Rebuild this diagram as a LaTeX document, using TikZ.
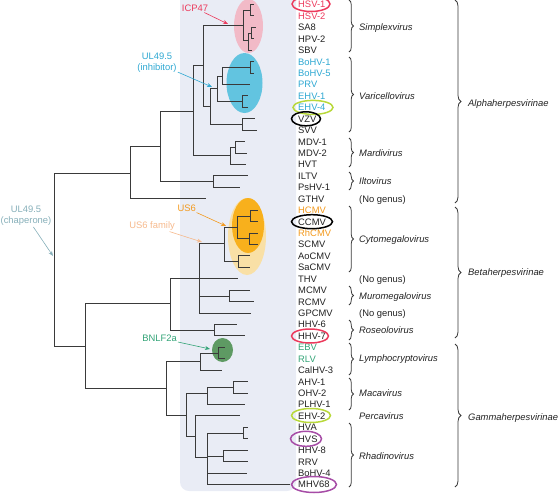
\documentclass[tikz,border=0pt]{standalone}
\usepackage{fontspec}
\setmainfont{Liberation Sans}
\usetikzlibrary{decorations.pathreplacing,arrows.meta,shapes.geometric}
\definecolor{treec}{HTML}{3A3A3A}
\definecolor{panel}{HTML}{E9ECF5}
\definecolor{hsvc}{HTML}{EC3A5C}
\definecolor{pinkfill}{HTML}{F2BAC7}
\definecolor{bluec}{HTML}{2EA8D2}
\definecolor{bluefill}{HTML}{62C4E0}
\definecolor{orangec}{HTML}{F39A1E}
\definecolor{orangefill}{HTML}{F8B01C}
\definecolor{lightor}{HTML}{F9E0A6}
\definecolor{famc}{HTML}{F6B98C}
\definecolor{greenc}{HTML}{33A477}
\definecolor{greenfill}{HTML}{5E9A63}
\definecolor{chapc}{HTML}{86AFB9}
\definecolor{limec}{HTML}{B8D83A}
\definecolor{purpc}{HTML}{A64CA6}
\definecolor{textc}{HTML}{222222}
\newcommand\treebr[2]{\foreach \cc in {#2}{\draw[treeline] (#1) |- (\cc);}}
\tikzset{
  treeline/.style={treec, line width=1pt},
  leaf/.style={anchor=west, inner sep=0pt, text height=6.8pt, text depth=0pt, font=\fontsize{9.4}{11}\selectfont},
  genus/.style={anchor=west, inner sep=0pt, text height=6.8pt, text depth=0pt, font=\fontsize{9.4}{11}\selectfont\itshape, text=textc},
  nogenus/.style={anchor=west, inner sep=0pt, text height=6.8pt, text depth=0pt, font=\fontsize{9.4}{11}\selectfont, text=textc},
  gbrace/.style={decorate, decoration={brace, amplitude=4.5pt}, draw=treec, line width=0.8pt},
  sbrace/.style={decorate, decoration={brace, amplitude=6pt}, draw=treec, line width=0.8pt},
  note/.style={inner sep=1pt, font=\fontsize{9.4}{11}\selectfont, align=center},
  arr/.style={-{Stealth[length=5pt,width=4pt]}, line width=0.6pt},
  labring/.style={ellipse, line width=1.5pt, inner sep=0pt}
}
\begin{document}
\begin{tikzpicture}[x=1pt, y=-1pt]
\useasboundingbox (0,0) rectangle (560,496);
% background panel
\fill[panel, rounded corners=9pt] (180,-12) rectangle (296,491);
% clade highlights
\fill[pinkfill] (248.5,26) ellipse [x radius=14.5, y radius=27];
\fill[bluefill] (244.5,83) ellipse [x radius=18, y radius=30];
\fill[lightor] (247,236.5) ellipse [x radius=19, y radius=38.5];
\fill[orangefill] (248,225.5) ellipse [x radius=16, y radius=27.5];
\fill[greenfill] (222.5,350) ellipse [x radius=10.5, y radius=12];
% leaves
\foreach \n/\c/\tx [count=\i from 0] in {
 HSV-1/hsvc/254, HSV-2/hsvc/254, SA8/textc/256, HPV-2/textc/254, SBV/textc/252,
 BoHV-1/bluec/254, BoHV-5/bluec/254, PRV/bluec/250, EHV-1/bluec/248, EHV-4/bluec/248,
 VZV/textc/255, SVV/textc/257, MDV-1/textc/245, MDV-2/textc/247, HVT/textc/246,
 ILTV/textc/248, PsHV-1/textc/240, GTHV/textc/206, HCMV/orangec/258, CCMV/textc/258,
 RhCMV/orangec/258, SCMV/textc/258, AoCMV/textc/250, SaCMV/textc/250, THV/textc/238,
 MCMV/textc/250, RCMV/textc/254, GPCMV/textc/251, HHV-6/textc/237, HHV-7/textc/245,
 EBV/greenc/225, RLV/greenc/225, CalHV-3/textc/222, AHV-1/textc/248, OHV-2/textc/248,
 PLHV-1/textc/245, EHV-2/textc/240, HVA/textc/248, HVS/textc/248, HHV-8/textc/248,
 RRV/textc/248, BoHV-4/textc/247, MHV68/textc/290}{
  \node[leaf, text=\c] (l\i) at (298,{4.5+11.43*\i}) {\n};
  \coordinate (t\i) at (\tx,{4.5+11.43*\i});
}
% internal nodes
\coordinate (S1) at (250,10.2);
\coordinate (S3) at (251,33.1);
\coordinate (S2) at (248,40);
\coordinate (Simp) at (243,25);
\coordinate (Bo) at (250,67.4);
\coordinate (BP) at (222,76);
\coordinate (EH) at (242,101.6);
\coordinate (Vsub) at (217,88);
\coordinate (VS) at (242,124.5);
\coordinate (V) at (210,106);
\coordinate (A3) at (203,65);
\coordinate (M1) at (235,147.4);
\coordinate (Mard) at (230,155);
\coordinate (A2) at (193,111);
\coordinate (ILT) at (213,181.7);
\coordinate (A1) at (160,146);
\coordinate (A) at (130,173);
\coordinate (O1) at (250,216);
\coordinate (O2) at (249,238.8);
\coordinate (Or) at (237,227);
\coordinate (Ao) at (238,261.7);
\coordinate (Cyto) at (224,243);
\coordinate (Muro) at (229,296);
\coordinate (Be1) at (199,278);
\coordinate (Ros) at (214,330.2);
\coordinate (Beta) at (170,303);
\coordinate (EB) at (218,353.1);
\coordinate (Ly) at (200,361);
\coordinate (AO) at (233,387.4);
\coordinate (Mac) at (207,393);
\coordinate (HV) at (243,433.1);
\coordinate (R1) at (223,456);
\coordinate (R0) at (207,457);
\coordinate (G3) at (195,436);
\coordinate (G2) at (186,415);
\coordinate (G) at (166,388);
\coordinate (B) at (85,346);
\coordinate (R) at (54,260);
% tree
\treebr{S1}{t0,t1}
\treebr{S3}{t2,t3}
\treebr{S2}{S3,t4}
\treebr{Simp}{S1,S2}
\treebr{Bo}{t5,t6}
\treebr{BP}{Bo,t7}
\treebr{EH}{t8,t9}
\treebr{Vsub}{BP,EH}
\treebr{VS}{t10,t11}
\treebr{V}{Vsub,VS}
\treebr{A3}{Simp,V}
\treebr{M1}{t12,t13}
\treebr{Mard}{M1,t14}
\treebr{A2}{A3,Mard}
\treebr{ILT}{t15,t16}
\treebr{A1}{A2,ILT}
\treebr{A}{A1,t17}
\treebr{O1}{t18,t19}
\treebr{O2}{t20,t21}
\treebr{Or}{O1,O2}
\treebr{Ao}{t22,t23}
\treebr{Cyto}{Or,Ao}
\treebr{Muro}{t25,t26}
\treebr{Be1}{Cyto,t24,Muro,t27}
\treebr{Ros}{t28,t29}
\treebr{Beta}{Be1,Ros}
\treebr{EB}{t30,t31}
\treebr{Ly}{EB,t32}
\treebr{AO}{t33,t34}
\treebr{Mac}{AO,t35}
\treebr{HV}{t37,t38}
\treebr{R1}{t39,t40}
\treebr{R0}{HV,R1,t41,t42}
\treebr{G3}{t36,R0}
\treebr{G2}{Mac,G3}
\treebr{G}{Ly,G2}
\treebr{B}{Beta,G}
\treebr{R}{A,B}
% marked labels
\node[labring, draw=hsvc, minimum width=38pt, minimum height=15pt] (m1) at (311,4) {};
\node[labring, draw=limec, minimum width=40pt, minimum height=14pt] (m2) at (313,107.4) {};
\node[labring, draw=black, minimum width=29pt, minimum height=14pt] (m3) at (306,118.8) {};
\node[labring, draw=black, minimum width=41pt, minimum height=14pt] (m4) at (312,221.7) {};
\node[labring, draw=hsvc, minimum width=37pt, minimum height=14pt] (m5) at (310,336) {};
\node[labring, draw=limec, minimum width=39pt, minimum height=14pt] (m6) at (311,415.5) {};
\node[labring, draw=purpc, minimum width=31pt, minimum height=15pt] (m7) at (306,438.8) {};
\node[labring, draw=purpc, minimum width=45pt, minimum height=16pt] (m8) at (314,484.5) {};
% annotations
\node[note, text=hsvc] (icp) at (195,8) {ICP47};
\coordinate (icpT) at (228,24);
\draw[arr, hsvc] (icp) -- (icpT);
\node[note, text=bluec] (inh) at (157,63) {UL49.5\\(inhibitor)};
\coordinate (inhT) at (212,87);
\draw[arr, bluec] (inh) -- (inhT);
\node[note, text=orangec, anchor=east] (us6) at (197,208) {US6};
\coordinate (us6T) at (226,226);
\draw[arr, orangec] (us6) -- (us6T);
\node[note, text=famc, anchor=east] (fam) at (176,226) {US6 family};
\coordinate (famT) at (202,242);
\draw[arr, famc] (fam) -- (famT);
\node[note, text=greenc, anchor=east] (bnl) at (178,338) {BNLF2a};
\coordinate (bnlT) at (210,349);
\draw[arr, greenc] (bnl) -- (bnlT);
\node[note, text=chapc] (chap) at (26,216) {UL49.5\\(chaperone)};
\coordinate (chapT) at (53,256);
\draw[arr, chapc] (chap) -- (chapT);
% genus braces
\draw[gbrace] (349,0) -- (349,52);
\node[genus] (g1) at (359,27) {Simplexvirus};
\draw[gbrace] (349,57) -- (349,132);
\node[genus] (g2) at (359,96) {Varicellovirus};
\draw[gbrace] (349,138) -- (349,167);
\node[genus] (g3) at (359,153) {Mardivirus};
\draw[gbrace] (349,172) -- (349,190);
\node[genus] (g4) at (359,181) {Iltovirus};
\node[nogenus] (g5) at (359,198.8) {(No genus)};
\draw[gbrace] (349,206) -- (349,272);
\node[genus] (g6) at (359,239) {Cytomegalovirus};
\node[nogenus] (g7) at (359,278.8) {(No genus)};
\draw[gbrace] (349,286) -- (349,305);
\node[genus] (g8) at (359,296) {Muromegalovirus};
\node[nogenus] (g9) at (359,313.1) {(No genus)};
\draw[gbrace] (349,320) -- (349,340);
\node[genus] (g10) at (359,330) {Roseolovirus};
\draw[gbrace] (349,343) -- (349,375);
\node[genus] (g11) at (359,358) {Lymphocryptovirus};
\draw[gbrace] (349,378) -- (349,410);
\node[genus] (g12) at (359,393) {Macavirus};
\node[genus] (g13) at (359,416) {Percavirus};
\draw[gbrace] (349,423) -- (349,487);
\node[genus] (g14) at (359,456) {Rhadinovirus};
% subfamily braces
\draw[sbrace] (455,0) -- (455,203);
\node[genus] (f1) at (468,103) {Alphaherpesvirinae};
\draw[sbrace] (455,207) -- (455,338);
\node[genus] (f2) at (468,272) {Betaherpesvirinae};
\draw[sbrace] (455,344) -- (455,487);
\node[genus] (f3) at (468,417) {Gammaherpesvirinae};
\end{tikzpicture}
\end{document}
